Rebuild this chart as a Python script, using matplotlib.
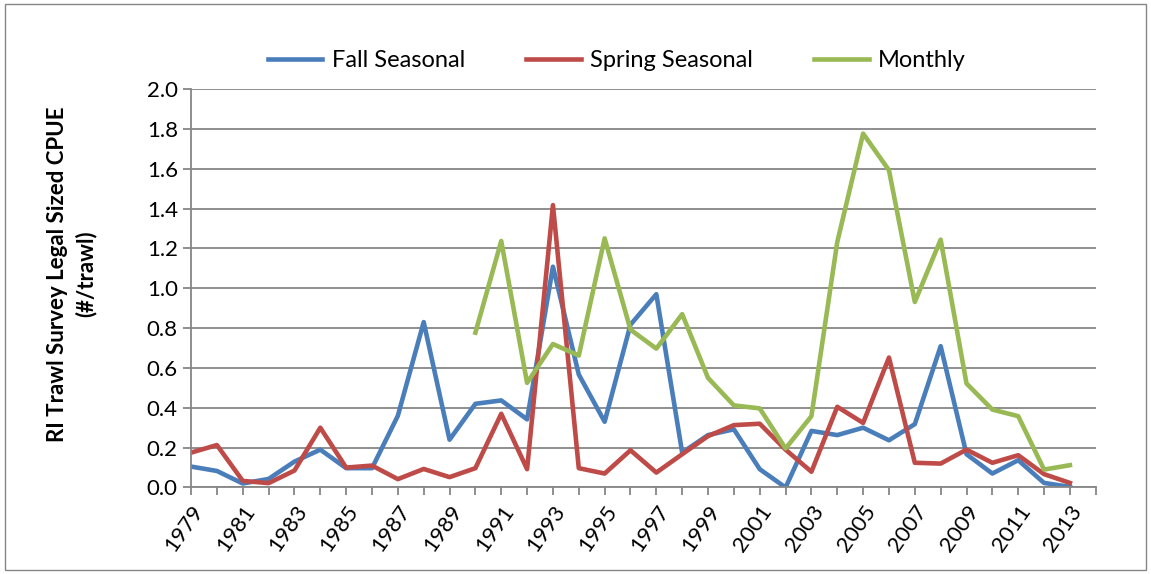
import numpy as np
import matplotlib.pyplot as plt
from matplotlib.patches import Rectangle

years = list(range(1979, 2014))

fall = [0.105, 0.083, 0.02, 0.043, 0.13, 0.19, 0.097, 0.097, 0.36, 0.83,
        0.24, 0.42, 0.437, 0.342, 1.108, 0.567, 0.33, 0.817, 0.97, 0.175,
        0.263, 0.292, 0.092, 0.0, 0.284, 0.263, 0.30, 0.237, 0.318, 0.709,
        0.167, 0.07, 0.137, 0.023, 0.003]

spring = [0.175, 0.213, 0.033, 0.022, 0.085, 0.30, 0.10, 0.11, 0.042, 0.093,
          0.052, 0.097, 0.37, 0.092, 1.417, 0.097, 0.07, 0.187, 0.075, 0.167,
          0.258, 0.313, 0.32, 0.19, 0.079, 0.405, 0.324, 0.652, 0.124, 0.12,
          0.19, 0.124, 0.162, 0.067, 0.023]

monthly_years = list(range(1990, 2014))
monthly = [0.777, 1.237, 0.525, 0.72, 0.662, 1.25, 0.792, 0.697, 0.87, 0.55,
           0.412, 0.397, 0.196, 0.358, 1.232, 1.776, 1.592, 0.931, 1.244, 0.522,
           0.391, 0.358, 0.09, 0.112]

plt.rcParams['font.family'] = ['Lato', 'DejaVu Sans']
grey = '#868686'

fig = plt.figure(figsize=(11.51, 5.74), dpi=100)
fig.patches.append(Rectangle((0.004, 0.007), 0.992, 0.986, transform=fig.transFigure,
                             fill=False, edgecolor=grey, linewidth=1.0))
ax = fig.add_axes([0.166, 0.1507, 0.786, 0.6943])

ax.plot(years, fall, color='#4A7EBB', lw=3.3, label='Fall Seasonal', solid_joinstyle='round')
ax.plot(years, spring, color='#BE4B48', lw=3.3, label='Spring Seasonal', solid_joinstyle='round')
ax.plot(monthly_years, monthly, color='#98B954', lw=3.3, label='Monthly', solid_joinstyle='round')

ax.set_xlim(1979, 2014)
ax.set_ylim(0, 2.0)
ax.set_yticks(np.arange(0, 2.01, 0.2))
ax.set_yticklabels([f'{v:.1f}' for v in np.arange(0, 2.01, 0.2)], fontsize=16)
xt = years + [2014]
ax.set_xticks(xt)
ax.set_xticklabels([str(y) if (y - 1979) % 2 == 0 and y < 2014 else '' for y in xt],
                   fontsize=16, rotation=55, ha='right', rotation_mode='anchor')

ax.grid(axis='y', color=grey, lw=1.3)
ax.set_axisbelow(True)
for s in ['top', 'right']:
    ax.spines[s].set_visible(False)
for s in ['left', 'bottom']:
    ax.spines[s].set_color(grey)
    ax.spines[s].set_linewidth(1.3)
ax.tick_params(axis='both', direction='out', length=6, color=grey, width=1.3)
ax.tick_params(axis='x', pad=4)

fig.text(0.0625, 0.523, 'RI Trawl Survey Legal Sized CPUE\n(#/trawl)', fontsize=16,
         fontweight='bold', rotation=90, ha='center', va='center',
         multialignment='center', linespacing=1.4)

fig.legend(loc='center', bbox_to_anchor=(0.536, 0.895), ncol=3, frameon=False,
           fontsize=17, handlelength=2.3, columnspacing=2.6, handletextpad=0.4)

fig.savefig('out.png', dpi=100)
plt.close()
